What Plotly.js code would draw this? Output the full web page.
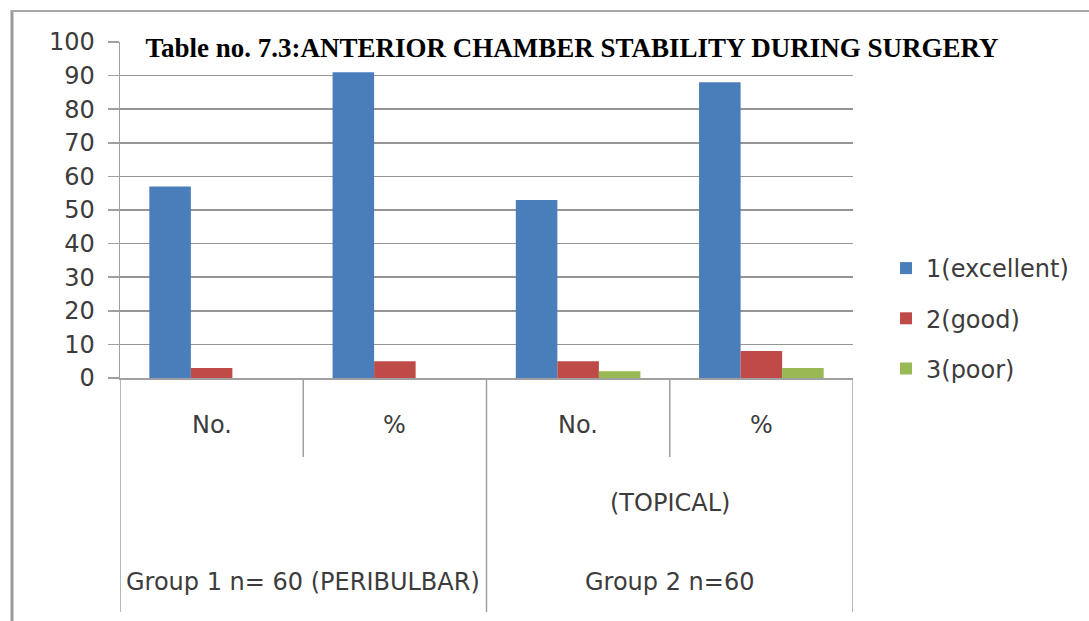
<!DOCTYPE html>
<html>
<head>
<meta charset="utf-8">
<script src="https://cdn.plot.ly/plotly-3.0.1.min.js"></script>
<style>
  html, body { margin: 0; padding: 0; background: #ffffff; }
  #chart { width: 1089px; height: 621px; }
</style>
</head>
<body>
<div id="chart"></div>
<script>
// Sub-category labels along the x axis, one per bar cluster
const categories = ["No.", "%", "No.", "%"];
// Outer group labels (each spans two clusters) and the extra line shown above group 2
const groupLabels = ["Group 1 n= 60 (PERIBULBAR)", "Group 2 n=60"];
const groupNotes = ["", "(TOPICAL)"];
const groupSize = 2;

// Series values per cluster
const seriesNames = ["1(excellent)", "2(good)", "3(poor)"];
const excellent = [57, 91, 53, 88];
const good = [3, 5, 5, 8];
const poor = [0, 0, 2, 3];
const seriesColors = ["#4a7ebb", "#be4b48", "#98b954"];

const yTicks = [0, 10, 20, 30, 40, 50, 60, 70, 80, 90, 100];

const titleText = "Table no. 7.3:ANTERIOR CHAMBER STABILITY DURING SURGERY";

// Page geometry
const W = 1089, H = 621;
const M = { l: 120, r: 236, t: 42, b: 243 };
const plotW = W - M.l - M.r;
const plotH = H - M.t - M.b;
const px = x => (x - M.l) / plotW;          // pixel column -> paper x
const py = y => (H - M.b - y) / plotH;      // pixel row -> paper y

const xs = categories.map((_, i) => i);
const values = [excellent, good, poor];

const traces = values.map((v, k) => ({
  type: "bar",
  name: seriesNames[k],
  x: xs,
  y: v,
  legendgroup: "g" + k,
  marker: { color: seriesColors[k], line: { width: 0 } },
  hoverinfo: "name+y"
}));

const labelFont = { family: "DejaVu Sans", size: 24, color: "#3c3c3c" };
const lineGrey = "#a0a0a0";

// Divider lines below the axis: short between sub-categories, long between groups
const shapes = [];
for (let i = 0; i <= categories.length; i++) {
  const isGroupEdge = i % groupSize === 0;
  shapes.push({
    type: "line", xref: "x", yref: "paper",
    x0: i - 0.5, x1: i - 0.5,
    y0: 0, y1: isGroupEdge ? py(612) : py(457),
    line: { color: lineGrey, width: 1.5 }
  });
}
// White panel behind the heading, hiding the top grid line there
shapes.push({
  type: "rect", xref: "paper", yref: "paper", layer: "above",
  x0: px(130), x1: px(1010), y0: py(60), y1: py(34),
  fillcolor: "#ffffff", line: { width: 0 }
});
// Outer frame (left and top edges)
shapes.push({
  type: "line", xref: "paper", yref: "paper",
  x0: px(12), x1: px(12), y0: py(10), y1: py(625),
  line: { color: "#9a9a9a", width: 3 }
});
shapes.push({
  type: "line", xref: "paper", yref: "paper",
  x0: px(11), x1: px(1092), y0: py(11), y1: py(11),
  line: { color: "#a8a8a8", width: 2 }
});

// Category and group labels
const annotations = [];
categories.forEach((c, i) => {
  annotations.push({
    x: i, xref: "x", y: py(425), yref: "paper",
    text: c, showarrow: false, font: labelFont,
    xanchor: "center", yanchor: "middle"
  });
});
groupLabels.forEach((g, j) => {
  const centre = j * groupSize + (groupSize - 1) / 2;
  annotations.push({
    x: centre, xref: "x", y: py(582), yref: "paper",
    text: g, showarrow: false, font: labelFont,
    xanchor: "center", yanchor: "middle"
  });
  if (groupNotes[j]) {
    annotations.push({
      x: centre, xref: "x", y: py(503), yref: "paper",
      text: groupNotes[j], showarrow: false, font: labelFont,
      xanchor: "center", yanchor: "middle"
    });
  }
});

const layout = {
  width: W, height: H,
  margin: M,
  paper_bgcolor: "#ffffff",
  plot_bgcolor: "#ffffff",
  title: {
    text: "<b>" + titleText + "</b>",
    x: 572 / W, xanchor: "center",
    y: 1 - 48 / H, yanchor: "middle",
    font: { family: "Liberation Serif", size: 27, color: "#000000" }
  },
  barmode: "group",
  bargap: 0.32,
  bargroupgap: 0,
  showlegend: true,
  legend: {
    x: px(886), xanchor: "left",
    y: py(246), yanchor: "top",
    traceorder: "grouped",
    tracegroupgap: 16,
    font: labelFont,
    bgcolor: "rgba(0,0,0,0)",
    borderwidth: 0
  },
  xaxis: {
    range: [-0.5, categories.length - 0.5],
    showticklabels: false,
    ticks: "",
    showgrid: false,
    zeroline: false,
    showline: true,
    linecolor: lineGrey,
    linewidth: 1.5,
    fixedrange: true
  },
  yaxis: {
    range: [0, 100],
    tickvals: yTicks,
    ticktext: yTicks.map(String),
    ticks: "outside",
    ticklen: 11,
    tickwidth: 1.5,
    tickcolor: lineGrey,
    ticklabelstandoff: 8,
    tickfont: labelFont,
    showgrid: true,
    gridcolor: "#959595",
    gridwidth: 1.5,
    zeroline: false,
    showline: true,
    linecolor: lineGrey,
    linewidth: 1.5,
    fixedrange: true
  },
  shapes: shapes,
  annotations: annotations
};

Plotly.newPlot("chart", traces, layout, { displayModeBar: false, staticPlot: true });
</script>
</body>
</html>
